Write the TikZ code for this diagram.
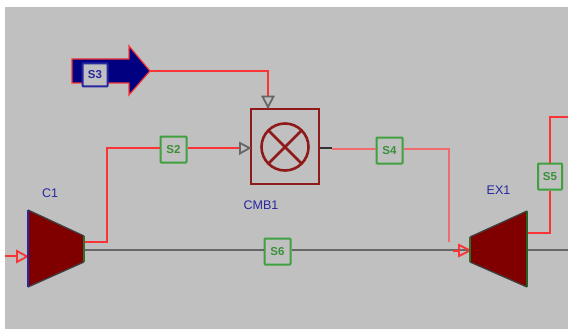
\documentclass[tikz,border=0pt]{standalone}
\usepackage{fontspec}
\setmainfont{Liberation Sans}
\definecolor{bgg}{HTML}{C0C0C0}
\definecolor{mar}{HTML}{800000}
\definecolor{boxred}{HTML}{8E1A1A}
\definecolor{nav}{HTML}{000080}
\definecolor{lab}{HTML}{2626A0}
\definecolor{grn}{HTML}{3FA03F}
\definecolor{rd}{HTML}{FA3434}
\definecolor{pale}{HTML}{F06C6C}
\definecolor{lin}{HTML}{666666}
\tikzset{
 streambox/.style={draw=grn,fill=bgg,line width=2pt,rounded corners=0.8pt,minimum width=26pt,minimum height=26pt,inner sep=0pt,font=\fontsize{11.5}{12}\selectfont\bfseries,text=grn!90!black},
 feedbox/.style={streambox,draw=lab,text=lab,minimum width=25pt,minimum height=23pt},
 unitlabel/.style={text=lab,inner sep=0pt,font=\fontsize{12.5}{13}\selectfont},
 redline/.style={draw=rd,line width=2.1pt},
 paleline/.style={draw=pale,line width=1.5pt},
 grayline/.style={draw=lin,line width=2pt},
 porttri/.style={line width=1.8pt,fill=bgg,line join=miter},
 unitbox/.style={draw=boxred,line width=2.6pt,inner sep=0pt},
}
\begin{document}
\begin{tikzpicture}[x=1pt,y=-1pt]
\useasboundingbox (0,0) rectangle (568,329);
\fill[white] (0,0) rectangle (568,329);
\fill[bgg] (5,7) rectangle (568,329);
% coordinates
\coordinate (s3in) at (150,71);
\coordinate (s3c) at (268,71);
\coordinate (c1out) at (84,242);
\coordinate (s2c1) at (107,242);
\coordinate (s2c2) at (107,148);
\coordinate (cmbstub) at (332,148);
\coordinate (s4start) at (332,149);
\coordinate (s4c) at (449,149);
\coordinate (s4end) at (449,242);
\coordinate (c1shaft) at (84,250);
\coordinate (exin) at (470,250);
\coordinate (exout) at (527,233);
\coordinate (s5c) at (550,233);
\coordinate (s5t) at (550,117);
\coordinate (s5e) at (568,117);
\coordinate (exshaft) at (527,250);
\coordinate (shaftend) at (568,250);
\coordinate (feedL) at (5,256);
\coordinate (feedR) at (17,256);
\coordinate (exfeedA) at (453,251);
\coordinate (exfeedB) at (460,251);
% nodes with connectors
\node[unitbox,minimum width=68pt,minimum height=75pt] (cmb) at (285,146.5) {};
\node[streambox,minimum width=26pt,minimum height=26pt] (s2) at (173.5,149.5) {S2};
\node[streambox,minimum width=26pt,minimum height=26pt] (s4) at (389.5,150.5) {S4};
\node[streambox,minimum width=26pt,minimum height=26pt] (s6) at (277.5,251.5) {S6};
\node[streambox,minimum width=24pt,minimum height=26pt] (s5) at (550,176.5) {S5};
% feed arrow
\fill[nav,draw=rd,line width=1.2pt,line join=miter] (72,59) -- (129,59) -- (129,46) -- (150,71) -- (129,95) -- (129,83) -- (72,83) -- cycle;
% streams
\draw[redline] (s3in) -- (s3c) -- (s3c |- cmb.north);
\draw[redline] (c1out) -- (s2c1) -- (s2c2) -- (s2c2 -| s2.west);
\draw[redline] (s2c2 -| s2.east) -- (s2c2 -| cmb.west);
\draw[black!80,line width=1.8pt] (cmbstub -| cmb.east) -- (cmbstub);
\draw[paleline] (s4start) -- (s4start -| s4.west);
\draw[paleline] (s4start -| s4.east) -- (s4c) -- (s4end);
\draw[grayline] (c1shaft) -- (c1shaft -| s6.west);
\draw[grayline] (c1shaft -| s6.east) -- (exin);
\draw[redline] (exout) -- (s5c) -- (s5.south);
\draw[redline] (s5.north) -- (s5t) -- (s5e);
\draw[grayline] (exshaft) -- (shaftend);
\draw[redline,line width=1.5pt] (feedL) -- (feedR);
\draw[rd,line width=1.8pt] (exfeedA) -- (exfeedB);
% port triangles
\draw[porttri,draw=lin] (262.5,96.5) -- (273.5,96.5) -- (268,107) -- cycle;
\draw[porttri,draw=lin] (240,143) -- (240,153.5) -- (249.5,148) -- cycle;
\draw[porttri,draw=rd] (17,251) -- (17,262) -- (27,256.5) -- cycle;
\draw[porttri,draw=rd,fill=none] (459,245) -- (459,256) -- (470,250.5) -- cycle;
% CMB1 symbol
\draw[boxred,line width=2.6pt] (285,147) circle (23.5);
\draw[boxred,line width=2.6pt] (268.4,130.4) -- (301.6,163.6) (268.4,163.6) -- (301.6,130.4);
% C1
\fill[mar] (28,210) -- (84,236) -- (84,262) -- (28,287) -- cycle;
\draw[black!75,line width=1.3pt] (28,210) -- (84,236) (84,262) -- (28,287);
\draw[lab,line width=1.8pt] (28,210) -- (28,287);
\draw[grn!70!black,line width=1.8pt] (84,236) -- (84,262);
% EX1
\fill[mar] (470,237) -- (527,211) -- (527,287) -- (470,262) -- cycle;
\draw[black!75,line width=1.3pt] (470,237) -- (527,211) (527,287) -- (470,262);
\draw[grn!70!black,line width=1.8pt] (470,237) -- (470,262);
\draw[grn!60!black,line width=1.5pt] (527,211) -- (527,287);
% feed stream box
\node[feedbox] (s3) at (95,75) {S3};
% labels
\node[unitlabel] (c1lab) at (50,193.5) {C1};
\node[unitlabel] (cmblab) at (261,205) {CMB1};
\node[unitlabel] (exlab) at (498.5,190.5) {EX1};
\end{tikzpicture}
\end{document}
